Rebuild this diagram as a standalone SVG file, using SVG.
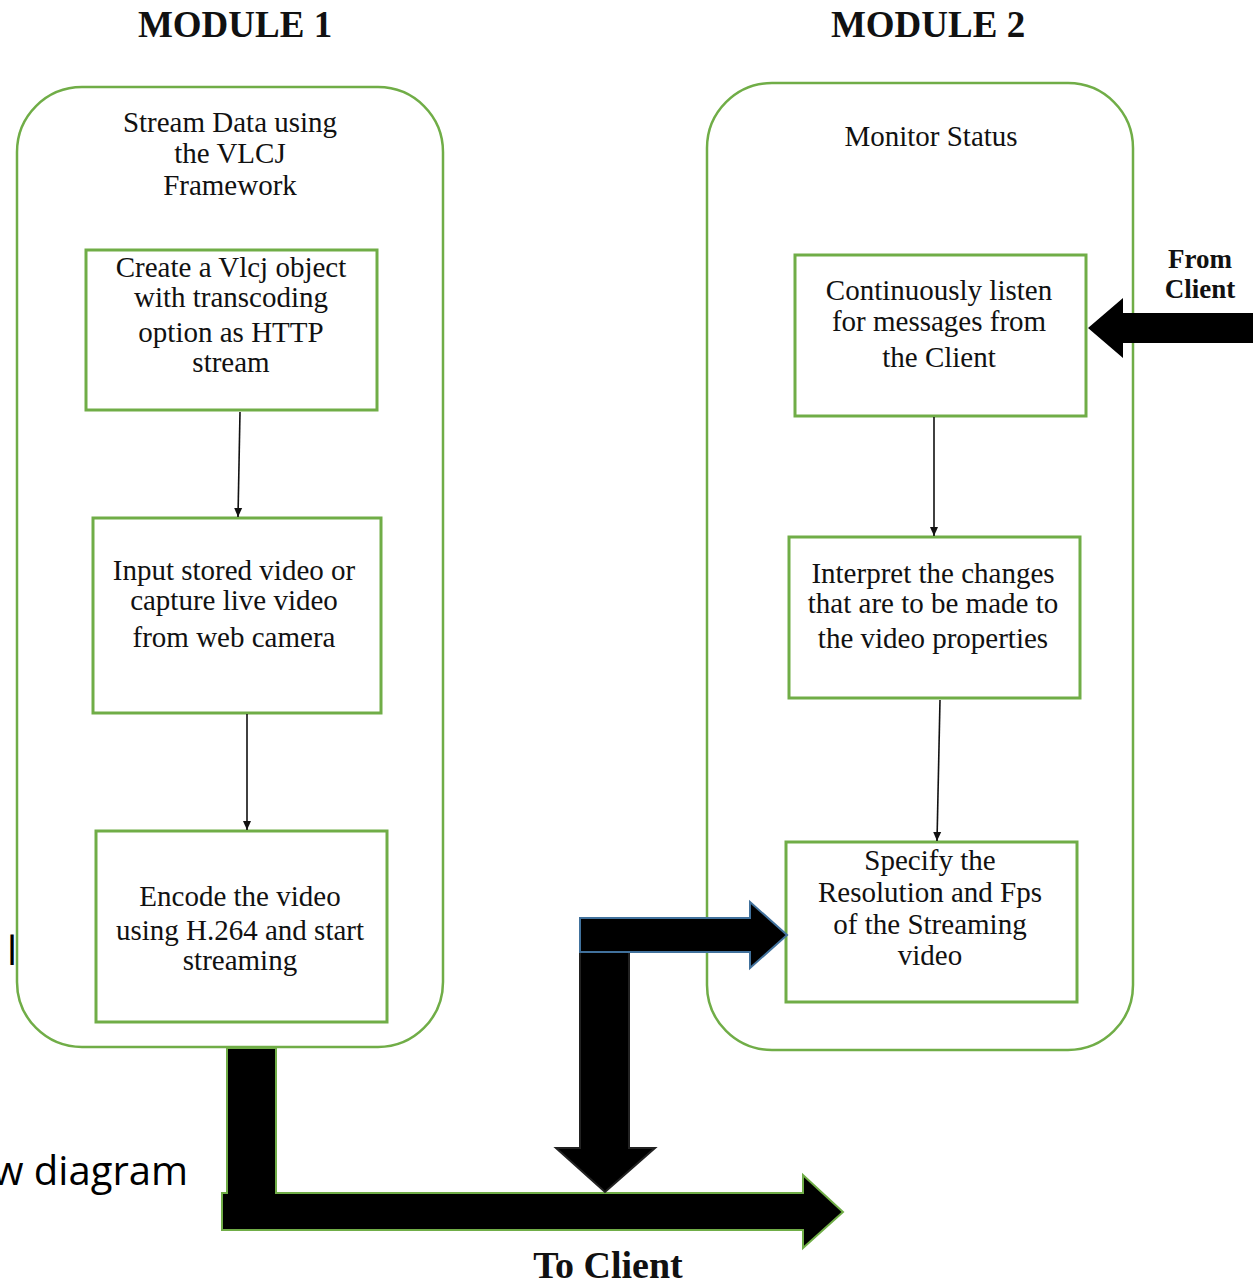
<svg xmlns="http://www.w3.org/2000/svg" width="1253" height="1283" viewBox="0 0 1253 1283">
<style>
.cont{fill:#fff;stroke:#70AD47;stroke-width:2.5}
.box{fill:#fff;stroke:#70AD47;stroke-width:3}
.t{font-family:"Liberation Serif","Times New Roman",serif;font-size:29px;fill:#111;text-anchor:middle}
.h{font-family:"Liberation Serif","Times New Roman",serif;font-weight:bold;fill:#111;text-anchor:middle}
.s{font-family:"Open Sans","Liberation Sans",sans-serif;font-size:40px;fill:#000}
.thin{stroke:#111;stroke-width:1.6;fill:none}
</style>
<defs>
<marker id="ah" markerWidth="10" markerHeight="10" refX="9" refY="5" orient="auto" markerUnits="userSpaceOnUse">
<path d="M0,1 L9,5 L0,9 Z" fill="#111"/>
</marker>
</defs>
<rect width="1253" height="1283" fill="#fff"/>
<text class="h" x="235" y="37" font-size="37">MODULE 1</text>
<text class="h" x="928" y="37" font-size="37">MODULE 2</text>
<text class="s" x="7" y="965">l</text>
<text class="s" x="188" y="1185" text-anchor="end">w diagram</text>

<g id="module1">
<rect class="cont" x="17" y="87" width="426" height="960" rx="65" ry="65"/>
<text class="t" x="230" y="132">Stream Data using</text>
<text class="t" x="230" y="163">the VLCJ</text>
<text class="t" x="230" y="195">Framework</text>
</g>
<g id="module2">
<rect class="cont" x="707" y="83" width="426" height="967" rx="65" ry="65"/>
<text class="t" x="931" y="146">Monitor Status</text>
</g>

<g id="boxA">
<rect class="box" x="86" y="250" width="291" height="160"/>
<text class="t" x="231" y="277">Create a Vlcj object</text>
<text class="t" x="231" y="307">with transcoding</text>
<text class="t" x="231" y="342">option as HTTP</text>
<text class="t" x="231" y="372">stream</text>
</g>
<g id="boxB">
<rect class="box" x="93" y="518" width="288" height="195"/>
<text class="t" x="234" y="580">Input stored video or</text>
<text class="t" x="234" y="610">capture live video</text>
<text class="t" x="234" y="647">from web camera</text>
</g>
<g id="boxC">
<rect class="box" x="96" y="831" width="291" height="191"/>
<text class="t" x="240" y="906">Encode the video</text>
<text class="t" x="240" y="940">using H.264 and start</text>
<text class="t" x="240" y="970">streaming</text>
</g>
<g id="boxD">
<rect class="box" x="795" y="255" width="291" height="161"/>
<text class="t" x="939" y="300">Continuously listen</text>
<text class="t" x="939" y="331">for messages from</text>
<text class="t" x="939" y="367">the Client</text>
</g>
<g id="boxE">
<rect class="box" x="789" y="537" width="291" height="161"/>
<text class="t" x="933" y="583">Interpret the changes</text>
<text class="t" x="933" y="613">that are to be made to</text>
<text class="t" x="933" y="648">the video properties</text>
</g>
<g id="boxF">
<rect class="box" x="786" y="842" width="291" height="160"/>
<text class="t" x="930" y="870">Specify the</text>
<text class="t" x="930" y="902">Resolution and Fps</text>
<text class="t" x="930" y="934">of the Streaming</text>
<text class="t" x="930" y="965">video</text>
</g>

<g id="connectors">
<line class="thin" x1="240" y1="412" x2="238" y2="517" marker-end="url(#ah)"/>
<line class="thin" x1="247" y1="714" x2="247" y2="830" marker-end="url(#ah)"/>
<line class="thin" x1="934" y1="417" x2="934" y2="536" marker-end="url(#ah)"/>
<line class="thin" x1="940" y1="700" x2="937" y2="841" marker-end="url(#ah)"/>
<rect x="227" y="1048" width="49" height="146" fill="#000" stroke="#70AD47" stroke-width="2"/>
<polygon points="222,1193 803,1193 803,1175 843,1212 803,1248 803,1230 222,1230" fill="#000" stroke="#70AD47" stroke-width="2"/>
<rect x="228" y="1192" width="47" height="3" fill="#000"/>
<polygon points="580,952 629,952 629,1148 655,1148 605,1192 556,1148 580,1148" fill="#000" stroke="#222" stroke-width="2"/>
<polygon points="580,918 750,918 750,902 787,935 750,968 750,952 580,952" fill="#000" stroke="#41719C" stroke-width="2"/>
<polygon points="1260,313 1123,313 1123,298 1088,328 1123,358 1123,343 1260,343" fill="#000"/>
</g>
<text class="h" x="1200" y="268" font-size="27">From</text>
<text class="h" x="1200" y="298" font-size="27">Client</text>
<text class="h" x="608" y="1278" font-size="38">To Client</text>
</svg>
